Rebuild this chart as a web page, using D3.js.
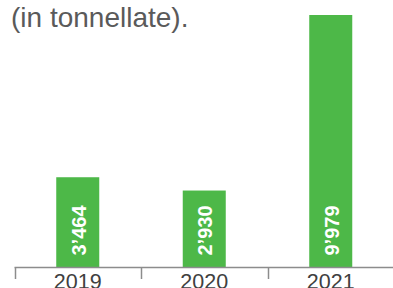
<!DOCTYPE html>
<html>
<head>
<meta charset="utf-8">
<script src="https://cdn.jsdelivr.net/npm/d3@7"></script>
<style>
  body { margin: 0; background: #fff; }
  svg { display: block; }
</style>
</head>
<body>
<div id="chart"></div>
<script>
  'use strict';

  var years = ['2019', '2020', '2021'];
  var values = [3464, 2930, 9979];
  var valueLabels = ['3\u2019464', '2\u2019930', '9\u2019979'];

  var w = 393,
    h = 288,
    axisY = 267.5;

  var svg = d3.select('#chart')
    .append('svg')
    .attr('width', w)
    .attr('height', h);

  var x = d3.scaleBand()
    .domain(years)
    .range([14.5, 394])
    .paddingInner(0.66)
    .paddingOuter(0.33);

  var y = d3.scaleLinear()
    .domain([0, 9979])
    .range([263.5, 15]);

  svg.append('text')
    .attr('x', 11)
    .attr('y', 27)
    .attr('font-family', 'Liberation Sans, Arial, sans-serif')
    .attr('font-size', 28)
    .attr('fill', '#5a5a5a')
    .text('(in tonnellate).');

  svg.selectAll('rect.bar')
    .data(values)
    .enter().append('rect')
    .attr('class', 'bar')
    .attr('x', function(d, i) { return x(years[i]); })
    .attr('width', x.bandwidth())
    .attr('y', function(d) { return y(d); })
    .attr('height', function(d) { return axisY - y(d); })
    .attr('fill', '#4db848');

  svg.selectAll('text.val')
    .data(valueLabels)
    .enter().append('text')
    .attr('class', 'val')
    .attr('transform', function(d, i) {
      return 'translate(' + (x(years[i]) + x.bandwidth() / 2 + 1) + ',' + (axisY - 12) + ') rotate(-90)';
    })
    .attr('dominant-baseline', 'central')
    .attr('font-family', 'Liberation Sans, Arial, sans-serif')
    .attr('font-weight', 'bold')
    .attr('font-size', 20)
    .attr('fill', '#fff')
    .text(function(d) { return d; });

  // axis line and ticks at band boundaries
  svg.append('line')
    .attr('x1', 14.5).attr('x2', w)
    .attr('y1', axisY).attr('y2', axisY)
    .attr('stroke', '#8c8c8c')
    .attr('stroke-width', 1.5);

  var edges = years.map(function(d) { return x(d) - x.step() * x.paddingInner() / 2; });
  svg.selectAll('line.tick')
    .data(edges)
    .enter().append('line')
    .attr('class', 'tick')
    .attr('x1', function(d) { return Math.round(d) + 0.5; })
    .attr('x2', function(d) { return Math.round(d) + 0.5; })
    .attr('y1', axisY)
    .attr('y2', 279)
    .attr('stroke', '#8c8c8c')
    .attr('stroke-width', 1.5);

  svg.selectAll('text.year')
    .data(years)
    .enter().append('text')
    .attr('class', 'year')
    .attr('x', function(d) { return x(d) + x.bandwidth() / 2; })
    .attr('y', 288.5)
    .attr('text-anchor', 'middle')
    .attr('font-family', 'Liberation Sans, Arial, sans-serif')
    .attr('font-size', 21.5)
    .attr('fill', '#404040')
    .text(function(d) { return d; });
</script>
</body>
</html>
